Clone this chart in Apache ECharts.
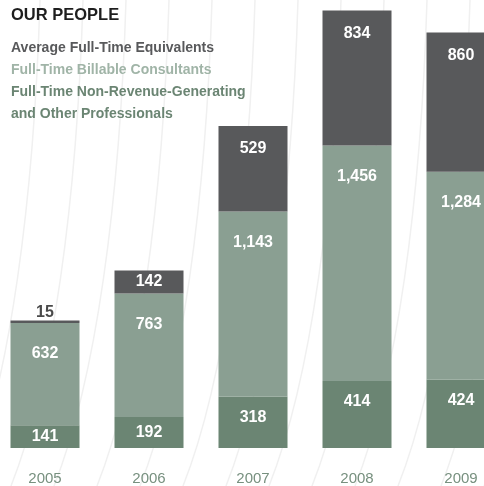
<!DOCTYPE html>
<html>
<head>
    <meta charset="utf-8">
    <title>Our People</title>
    <script src="https://cdn.jsdelivr.net/npm/echarts@6/dist/echarts.min.js"></script>
    <style>
        html, body { margin: 0; padding: 0; background: #ffffff; }
        #chart { width: 484px; height: 486px; }
    </style>
</head>
<body>
<div id="chart"></div>
<script>
    // data
    var years = ['2005', '2006', '2007', '2008', '2009'];
    var nonRevenue = [141, 192, 318, 414, 424];
    var billable = [632, 763, 1143, 1456, 1284];
    var averageFte = [15, 142, 529, 834, 860];

    var sans = "'Liberation Sans', Arial, sans-serif";
    var colGray = '#58595b', colLight = '#8a9f92', colDark = '#6b8573';

    function fmt(v) {
        return v.toLocaleString('en-US');
    }

    // label placement: small segments centred, tiny ones on top, rest near the top edge
    function buildData(values, distance) {
        return values.map(function (v) {
            var label;
            if (v < 60) {
                label = {position: 'top', distance: 0, color: '#4a4a4a'};
            } else if (v < 220) {
                label = {position: 'inside'};
            } else {
                label = {position: 'insideTop', distance: distance};
            }
            return {value: v, label: label};
        });
    }

    // faint background strokes
    var strokes = [];
    for (var i = 0; i < 14; i++) {
        var x0 = 40 + i * 43;
        strokes.push({
            type: 'bezierCurve',
            silent: true,
            z: -10,
            shape: {x1: x0, y1: 0, cpx1: x0 - 6, cpy1: 200, cpx2: x0 - 30, cpy2: 380, x2: x0 - 72, y2: 486},
            style: {stroke: '#f0f0f0', lineWidth: 1.5, fill: null}
        });
    }

    var chart = echarts.init(document.getElementById('chart'), null, {renderer: 'canvas'});

    var barLabel = {
        show: true,
        color: '#ffffff',
        fontFamily: sans,
        fontWeight: 'bold',
        fontSize: 16,
        formatter: function (p) { return fmt(p.value); }
    };

    var option = {
        backgroundColor: '#ffffff',
        animation: false,
        title: {
            text: 'OUR PEOPLE',
            left: 6,
            top: 2,
            textStyle: {fontFamily: sans, fontWeight: 'bold', fontSize: 16.5, color: '#1e1e1e'}
        },
        legend: {
            orient: 'vertical',
            left: 1,
            top: 32,
            icon: 'none',
            itemWidth: 0,
            itemGap: 0,
            selectedMode: false,
            textStyle: {fontFamily: sans, fontWeight: 'bold', fontSize: 14, lineHeight: 22},
            formatter: function (name) {
                return name.replace(' and Other', '\nand Other');
            },
            data: [
                {name: 'Average Full-Time Equivalents', textStyle: {color: colGray}},
                {name: 'Full-Time Billable Consultants', textStyle: {color: '#a0b4a7'}},
                {name: 'Full-Time Non-Revenue-Generating and Other Professionals', textStyle: {color: colDark}}
            ]
        },
        graphic: strokes,
        grid: {left: -7, width: 520, top: 0, bottom: 38, outerBoundsMode: 'none'},
        xAxis: {
            type: 'category',
            data: years,
            axisLine: {show: false},
            axisTick: {show: false},
            axisLabel: {margin: 23, fontFamily: sans, fontSize: 15, color: '#77907f'}
        },
        yAxis: {
            type: 'value',
            min: 0,
            max: 2769,
            show: false,
            splitLine: {show: false}
        },
        series: [
            {
                name: 'Full-Time Non-Revenue-Generating and Other Professionals',
                type: 'bar',
                stack: 'people',
                barWidth: 69,
                itemStyle: {color: colDark},
                label: barLabel,
                data: buildData(nonRevenue, 13)
            },
            {
                name: 'Full-Time Billable Consultants',
                type: 'bar',
                stack: 'people',
                barWidth: 69,
                itemStyle: {color: colLight},
                label: barLabel,
                data: buildData(billable, 23)
            },
            {
                name: 'Average Full-Time Equivalents',
                type: 'bar',
                stack: 'people',
                barWidth: 69,
                itemStyle: {color: colGray},
                label: barLabel,
                data: buildData(averageFte, 15)
            }
        ]
    };

    chart.setOption(option);
</script>
</body>
</html>
